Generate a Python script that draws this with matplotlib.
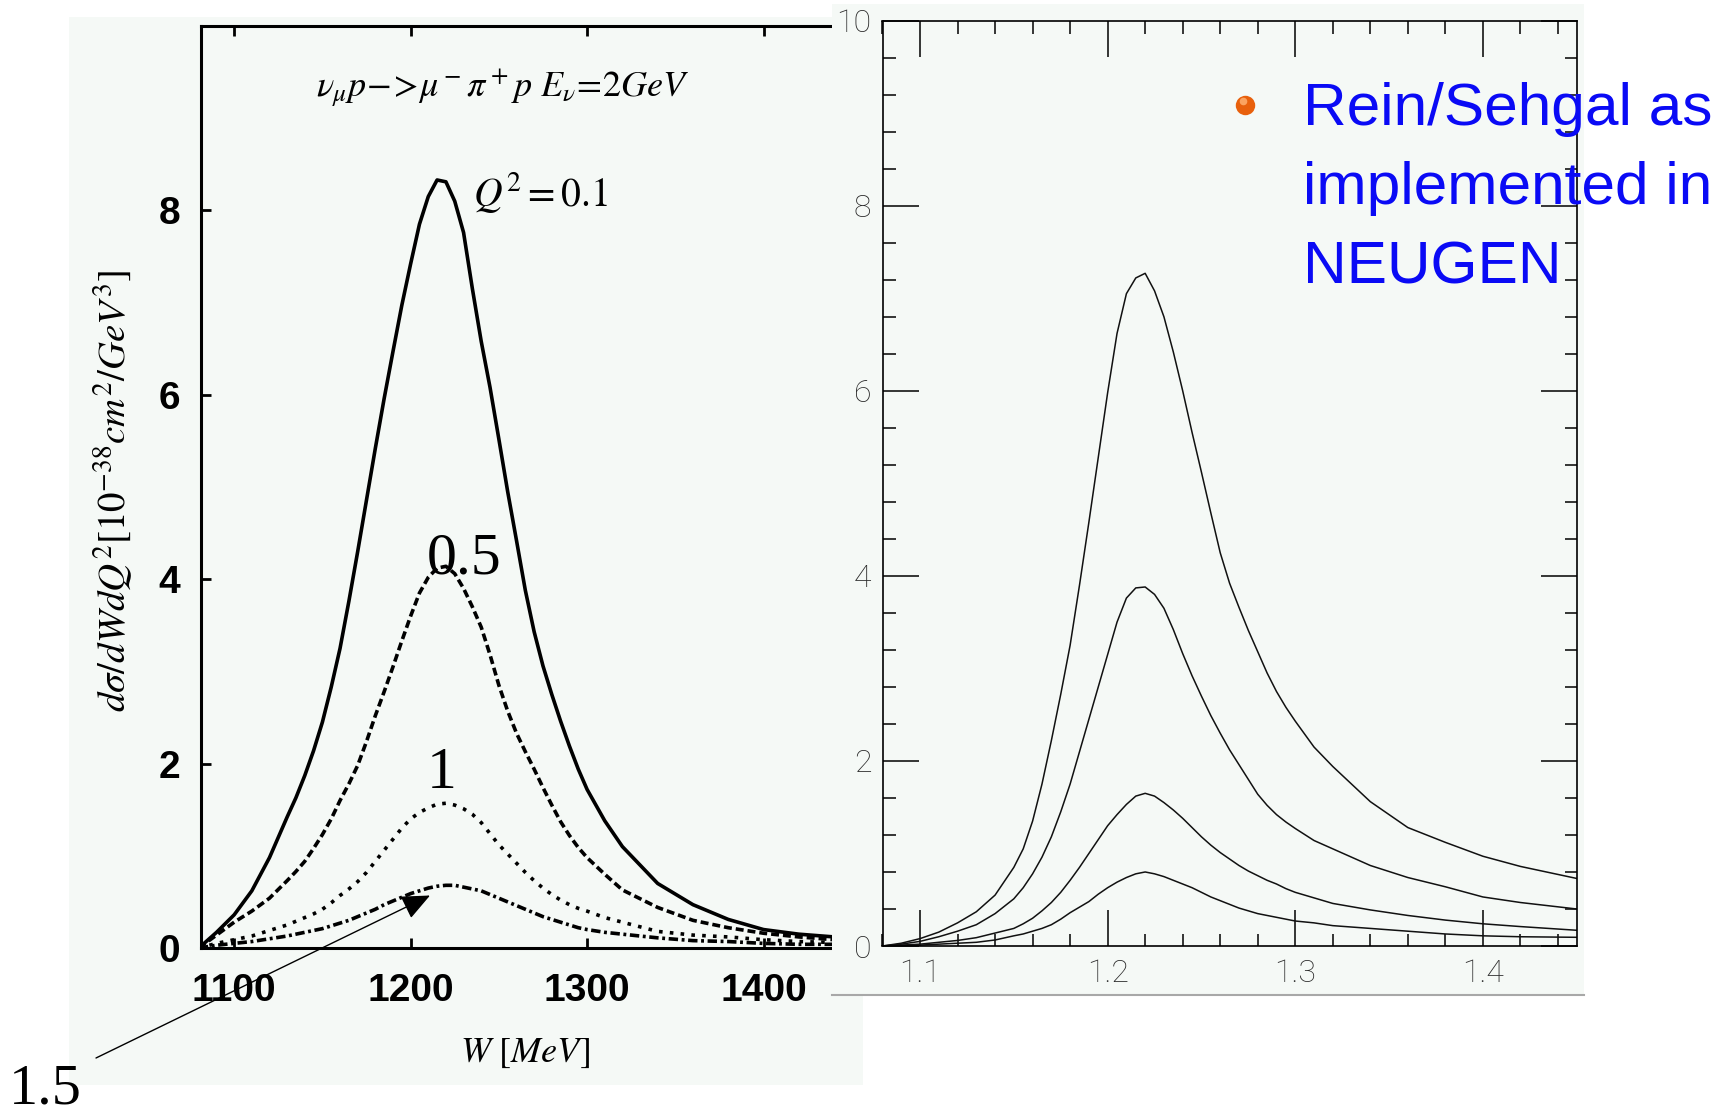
import matplotlib
matplotlib.use('Agg')
import matplotlib.pyplot as plt
from matplotlib.patches import Rectangle
from matplotlib.ticker import FixedLocator, MultipleLocator

plt.rcParams['mathtext.fontset'] = 'stix'

# ---------------- data: left panel (W in MeV) ----------------
w_mev = [1080, 1090, 1100, 1110, 1120,
         1130, 1135, 1140, 1145, 1150, 1155, 1160, 1165, 1170, 1175, 1180, 1185,
         1190, 1195, 1200, 1205, 1210, 1215, 1220, 1225, 1230, 1235, 1240, 1245,
         1250, 1255, 1260, 1265, 1270, 1275, 1280, 1285, 1290, 1295, 1300,
         1310, 1320, 1340, 1360, 1380, 1400, 1420, 1440]
left_q2_01 = [0.00, 0.17, 0.36, 0.62, 0.98,
              1.42, 1.63, 1.87, 2.14, 2.45, 2.83, 3.25, 3.76, 4.30, 4.86, 5.42, 5.96,
              6.47, 6.97, 7.42, 7.85, 8.15, 8.33, 8.31, 8.10, 7.76, 7.15, 6.58, 6.08,
              5.52, 4.95, 4.42, 3.88, 3.43, 3.06, 2.75, 2.46, 2.19, 1.94, 1.72,
              1.38, 1.10, 0.70, 0.47, 0.31, 0.20, 0.15, 0.12]
left_q2_05 = [0.00, 0.14, 0.28, 0.40, 0.54,
              0.73, 0.83, 0.94, 1.08, 1.23, 1.40, 1.60, 1.78, 1.98, 2.24, 2.52, 2.78,
              3.05, 3.33, 3.60, 3.85, 4.02, 4.12, 4.14, 4.06, 3.90, 3.70, 3.48, 3.18,
              2.85, 2.57, 2.33, 2.13, 1.94, 1.74, 1.55, 1.37, 1.22, 1.09, 0.98,
              0.80, 0.63, 0.44, 0.30, 0.22, 0.16, 0.12, 0.09]
left_q2_1 = [0.00, 0.05, 0.09, 0.13, 0.19,
             0.25, 0.29, 0.33, 0.37, 0.42, 0.49, 0.57, 0.64, 0.72, 0.82, 0.94, 1.06,
             1.18, 1.30, 1.40, 1.47, 1.52, 1.56, 1.57, 1.55, 1.51, 1.45, 1.36, 1.24,
             1.12, 1.02, 0.92, 0.82, 0.73, 0.65, 0.58, 0.52, 0.47, 0.43, 0.40,
             0.33, 0.28, 0.18, 0.14, 0.12, 0.09, 0.07, 0.06]
left_q2_15 = [0.00, 0.03, 0.05, 0.07, 0.10,
              0.13, 0.15, 0.17, 0.19, 0.21, 0.24, 0.27, 0.30, 0.34, 0.38, 0.42, 0.47,
              0.51, 0.55, 0.59, 0.62, 0.65, 0.67, 0.68, 0.68, 0.66, 0.64, 0.62, 0.58,
              0.54, 0.50, 0.46, 0.42, 0.38, 0.34, 0.31, 0.28, 0.25, 0.22, 0.20,
              0.17, 0.15, 0.11, 0.08, 0.07, 0.05, 0.04, 0.04]
left_xticks = [1100, 1200, 1300, 1400]
left_yticks = [0, 2, 4, 6, 8]

# ---------------- data: right panel (W in GeV, NEUGEN) ----------------
w_gev = [1.08, 1.09, 1.10, 1.11, 1.12, 1.13, 1.14,
         1.15, 1.155, 1.16, 1.165, 1.17, 1.175, 1.18, 1.185, 1.19, 1.195, 1.20,
         1.205, 1.21, 1.215, 1.22, 1.225, 1.23, 1.235, 1.24, 1.245, 1.25, 1.255,
         1.26, 1.265, 1.27, 1.275, 1.28, 1.285, 1.29, 1.295, 1.30,
         1.31, 1.32, 1.34, 1.36, 1.38, 1.40, 1.42, 1.45]
right_a = [0.00, 0.03, 0.08, 0.15, 0.25, 0.37, 0.55,
           0.85, 1.05, 1.35, 1.75, 2.22, 2.72, 3.25, 3.90, 4.58, 5.28, 5.98,
           6.62, 7.05, 7.22, 7.27, 7.08, 6.80, 6.42, 6.00, 5.55, 5.12, 4.68,
           4.25, 3.92, 3.66, 3.41, 3.18, 2.95, 2.75, 2.58, 2.43,
           2.15, 1.94, 1.56, 1.28, 1.12, 0.97, 0.86, 0.73]
right_b = [0.00, 0.02, 0.05, 0.10, 0.16, 0.23, 0.35,
           0.51, 0.63, 0.78, 0.96, 1.18, 1.45, 1.75, 2.10, 2.45, 2.80, 3.15,
           3.50, 3.76, 3.87, 3.88, 3.80, 3.65, 3.42, 3.16, 2.92, 2.70, 2.49,
           2.30, 2.12, 1.96, 1.80, 1.64, 1.52, 1.42, 1.34, 1.27,
           1.14, 1.05, 0.87, 0.74, 0.64, 0.53, 0.47, 0.40]
right_c = [0.00, 0.01, 0.02, 0.04, 0.06, 0.09, 0.14,
           0.19, 0.24, 0.30, 0.38, 0.47, 0.58, 0.71, 0.85, 1.00, 1.15, 1.30,
           1.42, 1.53, 1.62, 1.65, 1.62, 1.55, 1.47, 1.38, 1.28, 1.18, 1.09,
           1.01, 0.94, 0.87, 0.81, 0.76, 0.71, 0.67, 0.62, 0.58,
           0.52, 0.46, 0.39, 0.33, 0.28, 0.24, 0.21, 0.17]
right_d = [0.00, 0.005, 0.01, 0.02, 0.03, 0.04, 0.065,
           0.11, 0.13, 0.16, 0.19, 0.23, 0.29, 0.36, 0.42, 0.48, 0.56, 0.63,
           0.69, 0.74, 0.78, 0.80, 0.78, 0.75, 0.71, 0.67, 0.63, 0.58, 0.53,
           0.49, 0.45, 0.41, 0.38, 0.35, 0.33, 0.31, 0.29, 0.27,
           0.25, 0.22, 0.19, 0.16, 0.13, 0.11, 0.10, 0.094]
right_xticks = [1.1, 1.2, 1.3, 1.4]
right_xticklabels = ['1.1', '1.2', '1.3', '1.4']
right_yticks = [0, 2, 4, 6, 8, 10]

bullet_lines = ['Rein/Sehgal as', 'implemented in', 'NEUGEN']

# ---------------- figure ----------------
W, H = 1728, 1113
fig = plt.figure(figsize=(W / 100, H / 100), dpi=100)
fig.patch.set_facecolor('white')
BG = '#f5f9f6'


def fx(px):
    return px / W


def fy(py):
    return 1 - py / H


# background panels
fig.add_artist(Rectangle((fx(69), fy(1085)), fx(863) - fx(69), fy(17) - fy(1085),
                         transform=fig.transFigure, facecolor=BG, edgecolor='none', zorder=-2))
fig.add_artist(Rectangle((fx(832), fy(995)), fx(1584) - fx(832), fy(4) - fy(995),
                         transform=fig.transFigure, facecolor=BG, edgecolor='none', zorder=2))

# ---------------- left panel ----------------
axL = fig.add_axes([fx(201), fy(948), fx(832) - fx(201), fy(26) - fy(948)], zorder=1)
axL.set_facecolor('none')
lw = 2.6
axL.plot(w_mev, left_q2_01, color='black', lw=lw, ls='-')
axL.plot(w_mev, left_q2_05, color='black', lw=lw, ls=(0, (2.2, 1.1)))
axL.plot(w_mev, left_q2_1, color='black', lw=lw, ls=(0, (1.0, 2.0)))
axL.plot(w_mev, left_q2_15, color='black', lw=lw, ls=(0, (2.6, 1.0, 0.8, 1.0)))
axL.set_xlim(1081.2, 1438.8)
axL.set_ylim(0, 10)
axL.xaxis.set_major_locator(FixedLocator(left_xticks))
axL.yaxis.set_major_locator(FixedLocator(left_yticks))
for s in ['left', 'top', 'bottom']:
    axL.spines[s].set_linewidth(2.2)
axL.spines['right'].set_visible(False)
axL.tick_params(direction='in', length=7.5, width=2.0, top=True, right=False,
                labelsize=28)
axL.tick_params(axis='x', pad=18)
axL.tick_params(axis='y', pad=15)
for lab in axL.get_xticklabels() + axL.get_yticklabels():
    lab.set_fontfamily('Liberation Sans')
    lab.set_fontweight('bold')

# ---------------- right panel ----------------
axR = fig.add_axes([fx(882.5), fy(946), fx(1576.7) - fx(882.5), fy(20.7) - fy(946)], zorder=3)
axR.set_facecolor('none')
for ys in (right_a, right_b, right_c, right_d):
    axR.plot(w_gev, ys, color='#111111', lw=1.1)
axR.set_xlim(1.08, 1.45)
axR.set_ylim(0, 10)
axR.xaxis.set_major_locator(FixedLocator(right_xticks))
axR.set_xticklabels(right_xticklabels)
axR.xaxis.set_minor_locator(MultipleLocator(0.02))
axR.yaxis.set_major_locator(FixedLocator(right_yticks))
axR.yaxis.set_minor_locator(MultipleLocator(0.4))
for s in axR.spines.values():
    s.set_linewidth(1.2)
axR.tick_params(which='both', direction='in', top=True, right=True, width=1.1,
                labelsize=23, labelcolor='#2a2a2a')
axR.tick_params(which='major', length=26)
axR.tick_params(which='minor', length=9)
axR.tick_params(axis='x', pad=9)
axR.tick_params(axis='y', pad=8)
for lab in axR.get_xticklabels() + axR.get_yticklabels():
    lab.set_fontfamily(['Roboto', 'DejaVu Sans'])
    lab.set_fontweight('light')

# ---------------- overlay (annotations) ----------------
ax_o = fig.add_axes([0, 0, 1, 1], zorder=10)
ax_o.set_xlim(0, W)
ax_o.set_ylim(H, 0)
ax_o.axis('off')
ax_o.patch.set_alpha(0)

ax_o.plot([832, 1584], [995, 995], color='#a8a8a8', lw=1.5)

ax_o.text(503, 97, r'$\nu_\mu p\!-\!\!>\!\mu^-\pi^+p\ E_\nu\!=\!2GeV$', fontsize=26,
          ha='center', va='baseline')
ax_o.text(113, 491, r'$d\sigma/dWdQ^2[10^{-38}cm^2/GeV^3]$', fontsize=28,
          rotation=90, ha='center', va='center')
ax_o.text(525, 1062, r'$W\ [MeV]$', fontsize=26, ha='center', va='baseline')

ax_o.text(473, 206, r'$Q^2=0.1$', fontsize=28.5, ha='left', va='baseline')
serif = 'Liberation Serif'
ax_o.text(464, 573, '0.5', fontsize=43, family=serif, ha='center', va='baseline')
ax_o.text(442, 788, '1', fontsize=43, family=serif, ha='center', va='baseline')
ax_o.text(45, 1104, '1.5', fontsize=42, family=serif, ha='center', va='baseline')

ax_o.annotate('', xy=(430, 895.5), xytext=(96, 1058),
              arrowprops=dict(arrowstyle='-|>,head_length=0.5,head_width=0.22',
                              lw=1.0, color='black', mutation_scale=35,
                              shrinkA=0, shrinkB=0))

# bullet + blue text
ax_o.plot([1245], [105], 'o', ms=14, color='#e8600c', mec='none')
ax_o.plot([1243], [101], 'o', ms=5.5, color='#ffb070', mec='none', alpha=0.85)
for i, line in enumerate(bullet_lines):
    ax_o.text(1303, 125 + 79.5 * i, line, fontsize=43.5, family='Liberation Sans',
              color='#0a0af5', ha='left', va='baseline')

fig.savefig('out.png', dpi=100)
